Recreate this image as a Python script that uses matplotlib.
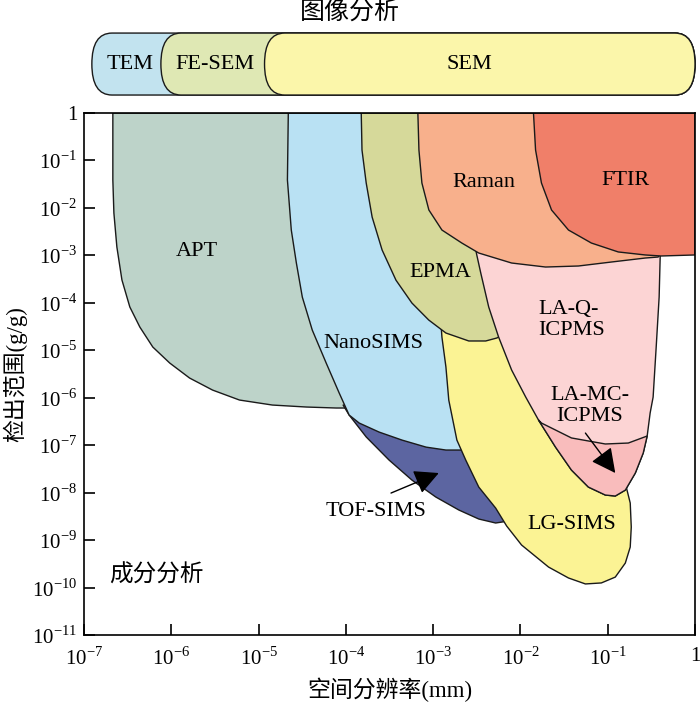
import numpy as np
import matplotlib
matplotlib.use("Agg")
import matplotlib.pyplot as plt
from matplotlib.path import Path
from matplotlib.patches import Polygon, PathPatch

plt.rcParams['font.family'] = ['Liberation Serif', 'Noto Sans CJK SC']
plt.rcParams['mathtext.fontset'] = 'custom'
plt.rcParams['mathtext.rm'] = 'Liberation Serif'

# ---------------------------------------------------------
# outlines: x = spatial resolution (mm), y = detection limit (g/g)
# ---------------------------------------------------------
APT_X = [2.14e-7, 2.14e-7, 2.2e-7, 2.38e-7, 2.72e-7, 3.35e-7, 4.36e-7, 6.14e-7, 9.6e-7,
         1.62e-6, 2.97e-6, 6.04e-6, 1.44e-5, 3.52e-5, 7.74e-5, 1.03e-4, 7.4e-5, 3.6e-5,
         2.8e-5, 2.6e-5]
APT_Y = [1.0, 3.87e-2, 7.81e-3, 1.5e-3, 3.03e-4, 8.16e-5, 3.09e-5, 1.17e-5, 5.38e-6,
         2.6e-6, 1.45e-6, 8.94e-7, 7.01e-7, 6.37e-7, 6.07e-7, 6.07e-7, 4.4e-6, 1.15e-4,
         1.5e-2, 1.0]

TOF_X = [9.3e-5, 1.09e-4, 1.71e-4, 3.12e-4, 5.71e-4, 1.07e-3, 1.97e-3, 3.33e-3, 5.2e-3,
         7.3e-3, 1.09e-2, 4.33e-3, 6.87e-4, 1.42e-4]
TOF_Y = [7.0e-7, 4.32e-7, 1.49e-7, 4.87e-8, 1.84e-8, 8.1e-9, 4.3e-9, 2.78e-9, 2.29e-9,
         2.52e-9, 5.5e-9, 1.01e-7, 3.39e-7, 7.0e-7]

NANO_X = [2.19e-5, 2.14e-5, 2.37e-5, 2.71e-5, 3.17e-5, 4.12e-5, 5.95e-5, 8.38e-5, 1.09e-4,
          1.42e-4, 2.4e-4, 4.4e-4, 8.3e-4, 1.4e-3, 2.1e-3, 2.9e-3, 2.24e-3, 1.73e-3,
          1.16e-3, 4.06e-4, 2.74e-4, 2.4e-4]
NANO_Y = [1.0, 3.87e-2, 3.42e-3, 6.9e-4, 1.32e-4, 2.67e-5, 5.38e-6, 1.26e-6, 4.32e-7,
          2.93e-7, 1.89e-7, 1.28e-7, 9.1e-8, 7.9e-8, 7.9e-8, 7.2e-8, 1.28e-7, 1.8e-5,
          7.0e-5, 8.0e-4, 1.5e-2, 1.0]

LG_X = [1.22e-3, 1.26e-3, 1.40e-3, 1.51e-3, 1.87e-3, 2.36e-3, 3.33e-3, 5.2e-3, 6.95e-3,
        1.03e-2, 2.1e-2, 3.55e-2, 5.55e-2, 8.45e-2, 0.122, 0.159, 0.181, 0.186, 0.181,
        0.163, 0.223, 0.223, 7.8e-2, 9.5e-3, 4.33e-3]
LG_Y = [4.34e-5, 1.9e-5, 4.44e-6, 8.9e-7, 1.28e-7, 4.87e-8, 1.31e-8, 4.73e-9, 1.98e-9,
        7.87e-10, 2.7e-10, 1.59e-10, 1.19e-10, 1.25e-10, 1.66e-10, 3.28e-10, 7.14e-10,
        1.88e-9, 6.04e-9, 1.31e-8, 2.09e-7, 1.01e-5, 1.15e-4, 1.15e-4, 4.34e-5]

EPMA_X = [1.50e-4, 1.53e-4, 1.71e-4, 2.0e-4, 2.6e-4, 3.75e-4, 5.71e-4, 8.9e-4, 1.4e-3,
          2.56e-3, 4.0e-3, 5.34e-3, 8.4e-3, 6.4e-3, 1.51e-3]
EPMA_Y = [1.0, 0.166, 3.35e-2, 6.4e-3, 1.3e-3, 3.0e-4, 9.9e-5, 4.34e-5, 2.31e-5,
          1.57e-5, 1.57e-5, 1.81e-5, 2.67e-5, 1.3e-3, 1.0]

LA_X = [2.92e-3, 3.16e-3, 3.51e-3, 4.33e-3, 5.62e-3, 7.92e-3, 1.15e-2, 1.61e-2, 2.52e-2,
        3.84e-2, 6.0e-2, 9.38e-2, 0.122, 0.159, 0.207, 0.255, 0.283, 0.306, 0.331,
        0.359, 0.388, 0.399, 0.431]
LA_Y = [2.1e-3, 1.02e-3, 4.25e-4, 8.16e-5, 1.9e-5, 3.84e-6, 1.03e-6, 3.39e-7, 9.14e-8,
        2.99e-8, 1.31e-8, 8.9e-9, 8.48e-9, 1.13e-8, 2.59e-8, 6.84e-8, 1.56e-7, 4.76e-7,
        1.03e-6, 1.17e-5, 1.32e-4, 9.5e-4, 2.1e-3]

LAMC_X = [1.61e-2, 2.52e-2, 3.84e-2, 6.0e-2, 9.38e-2, 0.122, 0.159, 0.207, 0.255, 0.283,
          0.172, 9.38e-2, 3.84e-2, 1.74e-2]
LAMC_Y = [3.39e-7, 9.14e-8, 2.99e-8, 1.31e-8, 8.9e-9, 8.48e-9, 1.13e-8, 2.59e-8, 6.84e-8,
          1.56e-7, 1.11e-7, 1.06e-7, 1.42e-7, 2.93e-7]

RAMAN_X = [6.68e-4, 6.87e-4, 7.43e-4, 8.93e-4, 1.26e-3, 2.13e-3, 3.33e-3, 7.92e-3, 1.94e-2,
           4.61e-2, 0.110, 0.269, 0.378, 0.64, 0.29]
RAMAN_Y = [1.0, 0.166, 3.35e-2, 9.04e-3, 3.42e-3, 1.82e-3, 1.12e-3, 6.9e-4, 5.68e-4,
           5.97e-4, 7.24e-4, 8.79e-4, 9.23e-4, 3.42e-3, 1.0]

FTIR_X = [1.41e-2, 1.49e-2, 1.74e-2, 2.27e-2, 3.55e-2, 6.49e-2, 0.132, 0.269, 0.409, 1.0, 1.0]
FTIR_Y = [1.0, 0.166, 3.35e-2, 9.04e-3, 3.42e-3, 1.82e-3, 1.18e-3, 1.02e-3, 9.7e-4, 1.02e-3, 1.0]

# drawing order matters (later ones sit on top)
SHAPES = [
    (APT_X, APT_Y, '#bdd3c9'),
    (TOF_X, TOF_Y, '#5c65a1'),
    (NANO_X, NANO_Y, '#b9e1f3'),
    (LG_X, LG_Y, '#fbf394'),
    (EPMA_X, EPMA_Y, '#d6d99a'),
    (LA_X, LA_Y, '#fcd4d4'),
    (LAMC_X, LAMC_Y, '#f9bcbc'),
    (RAMAN_X, RAMAN_Y, '#f8b08c'),
    (FTIR_X, FTIR_Y, '#f07f69'),
]

LABELS = ['APT', 'NanoSIMS', 'TOF-SIMS', 'EPMA', 'Raman', 'FTIR', 'LG-SIMS', 'LA-MC-\nICPMS']
LABEL_X = [1.95e-6, 2.05e-4, 2.22e-4, 1.22e-3, 3.79e-3, 0.159, 3.84e-2, 6.17e-2]
LABEL_Y = [1.18e-3, 1.42e-5, 4.1e-9, 4.46e-4, 3.51e-2, 3.87e-2, 2.18e-9, 6.6e-7]

# arrows: (tail, tip)
ARROWS = [((5.55e-2, 1.80e-7), (0.122, 2.59e-8)),
          ((3.29e-4, 9.8e-9), (1.16e-3, 2.59e-8))]

# imaging bar on top
BAR_NAMES = ['TEM', 'FE-SEM', 'SEM']
BAR_START = [1.23e-7, 7.6e-7, 1.17e-5]
BAR_END = [1.0, 1.0, 1.0]
BAR_COLORS = ['#c2e3ef', '#dfe8b4', '#fbf6aa']
BAR_LABEL_X = [3.35e-7, 3.13e-6, 2.62e-3]

XTICKS = [1e-7, 1e-6, 1e-5, 1e-4, 1e-3, 1e-2, 1e-1, 1]
XTICK_LABELS = [r'$10^{-7}$', r'$10^{-6}$', r'$10^{-5}$', r'$10^{-4}$',
                r'$10^{-3}$', r'$10^{-2}$', r'$10^{-1}$', '1']
YTICKS = [1e-11, 1e-10, 1e-9, 1e-8, 1e-7, 1e-6, 1e-5, 1e-4, 1e-3, 1e-2, 1e-1, 1]
YTICK_LABELS = [r'$10^{-11}$', r'$10^{-10}$', r'$10^{-9}$', r'$10^{-8}$', r'$10^{-7}$',
                r'$10^{-6}$', r'$10^{-5}$', r'$10^{-4}$', r'$10^{-3}$', r'$10^{-2}$',
                r'$10^{-1}$', '1']


def capsule(x0, x1, k=1.7):
    # rounded bar with elliptic ends (control points in data coords, log x)
    verts = [(x0 * k, 1), (x0, 1), (x0, 0.5), (x0, 0), (x0 * k, 0),
             (x1 / k, 0), (x1, 0), (x1, 0.5), (x1, 1), (x1 / k, 1), (x0 * k, 1)]
    codes = [Path.MOVETO, Path.CURVE3, Path.CURVE3, Path.CURVE3, Path.CURVE3,
             Path.LINETO, Path.CURVE3, Path.CURVE3, Path.CURVE3, Path.CURVE3,
             Path.CLOSEPOLY]
    return Path(verts, codes)


def main():
    fig = plt.figure(figsize=(7, 7.05), dpi=100)
    ax = fig.add_axes([0.12, 0.0993, 0.8729, 0.7404])
    ax.set_xscale('log')
    ax.set_yscale('log')
    ax.set_xlim(1e-7, 1)
    ax.set_ylim(1e-11, 1)

    for xs, ys, col in SHAPES:
        ax.add_patch(Polygon(np.column_stack([xs, ys]), closed=True, facecolor=col,
                             edgecolor='#1a1a1a', lw=1.0, joinstyle='round'))

    for txt, x, y in zip(LABELS, LABEL_X, LABEL_Y):
        ax.text(x, y, txt, ha='center', va='center', fontsize=16, linespacing=1.15)
    ax.text(1.61e-2, 4.34e-5, 'LA-Q-\nICPMS', ha='left', va='center', fontsize=16,
            linespacing=1.15)
    ax.text(6.82e-7, 1.83e-10, '成分分析', ha='center', va='center', fontsize=17,
            family=['Noto Sans CJK SC'])

    for tail, tip in ARROWS:
        ax.annotate('', xy=tip, xytext=tail,
                    arrowprops=dict(arrowstyle='-|>,head_length=0.75,head_width=0.38',
                                    mutation_scale=20, color='black', lw=1.0,
                                    shrinkA=0, shrinkB=0))

    ax.set_xticks(XTICKS, labels=XTICK_LABELS)
    ax.set_yticks(YTICKS, labels=YTICK_LABELS)
    ax.minorticks_off()
    ax.tick_params(direction='in', length=8, width=1.2, labelsize=15)
    ax.tick_params(axis='x', pad=9)
    ax.tick_params(axis='y', pad=5)
    for sp in ax.spines.values():
        sp.set_linewidth(1.2)
        sp.set_zorder(5)

    ax.set_xlabel('空间分辨率(mm)', fontsize=16.5, va='center')
    ax.xaxis.set_label_coords(0.5, -0.105)
    ax.set_ylabel('检出范围(g/g)', fontsize=16.5, va='center', ha='center')
    ax.yaxis.set_label_coords(-0.113, 0.5)

    # top bar: imaging techniques
    bar = fig.add_axes([0.12, 0.8652, 0.8729, 0.0879], sharex=ax)
    bar.set_ylim(0, 1)
    bar.axis('off')
    for x0, x1, col in zip(BAR_START, BAR_END, BAR_COLORS):
        bar.add_patch(PathPatch(capsule(x0, x1), facecolor=col, edgecolor='#1a1a1a',
                                lw=1.0, clip_on=False))
    for name, x in zip(BAR_NAMES, BAR_LABEL_X):
        bar.text(x, 0.5, name, ha='center', va='center', fontsize=16)
    fig.text(0.5, 0.983, '图像分析', ha='center', va='center', fontsize=18,
             family=['Noto Sans CJK SC'])

    fig.savefig('out.png', dpi=100)


if __name__ == "__main__":
    main()
